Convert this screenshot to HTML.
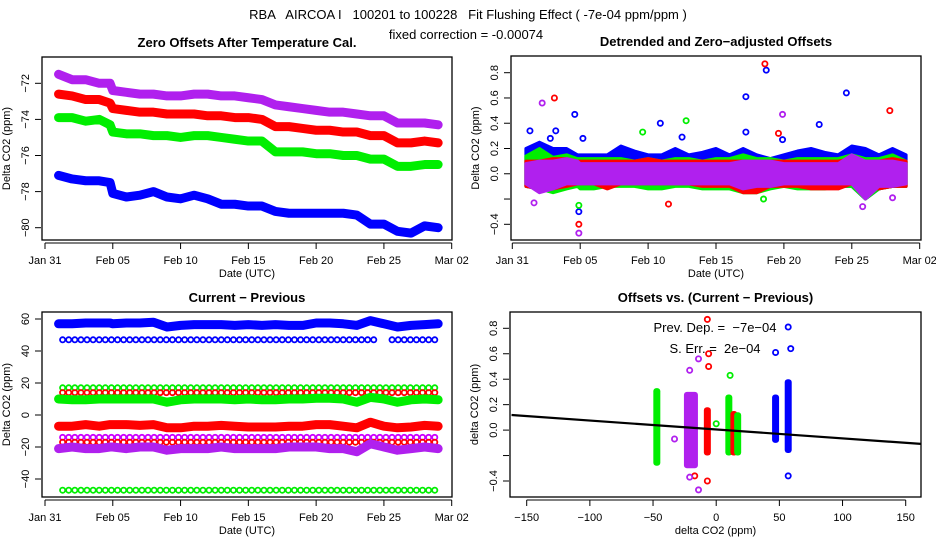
<!DOCTYPE html>
<html><head><meta charset="utf-8"><style>
body{margin:0;background:#fff}
svg{display:block;font-family:"Liberation Sans",sans-serif}
svg text{white-space:pre}
</style></head><body>
<svg id="chart" width="936" height="540" viewBox="0 0 936 540">
<text x="468" y="19" text-anchor="middle" font-size="13" xml:space="preserve">RBA   AIRCOA I   100201 to 100228   Fit Flushing Effect ( -7e-04 ppm/ppm )</text>
<text x="466" y="39" text-anchor="middle" font-size="13">fixed correction = -0.00074</text>
</svg>
<script>
// ---------- data ----------
const days = [1,2,3,4,4.8,5,6,7,8,9,10,11,12,13,14,15,16,17,18,19,20,21,22,23,24,25,26,27,28,29];
const zeroPurple = [-71.5,-71.8,-71.8,-72.0,-72.0,-72.4,-72.5,-72.6,-72.6,-72.7,-72.7,-72.6,-72.6,-72.7,-72.7,-72.8,-72.9,-73.2,-73.3,-73.4,-73.5,-73.6,-73.6,-73.7,-73.8,-73.8,-74.2,-74.2,-74.2,-74.3];
const zeroRed = [-72.6,-72.7,-72.9,-72.9,-73.1,-73.4,-73.5,-73.6,-73.6,-73.7,-73.7,-73.7,-73.8,-73.8,-73.9,-73.9,-74.0,-74.4,-74.4,-74.5,-74.6,-74.6,-74.7,-74.7,-74.9,-74.9,-75.3,-75.3,-75.2,-75.3];
const zeroGreen = [-73.9,-73.9,-74.1,-74.0,-74.3,-74.7,-74.8,-74.8,-74.9,-74.9,-75.0,-74.9,-74.9,-75.0,-75.1,-75.2,-75.2,-75.8,-75.8,-75.8,-75.9,-75.9,-76.0,-76.0,-76.2,-76.2,-76.6,-76.6,-76.5,-76.5];
const zeroBlue = [-77.1,-77.3,-77.4,-77.4,-77.5,-78.1,-78.3,-78.2,-78.0,-78.3,-78.4,-78.2,-78.4,-78.7,-78.7,-78.8,-78.8,-79.1,-79.2,-79.2,-79.2,-79.2,-79.2,-79.3,-79.8,-79.8,-80.2,-80.3,-79.9,-80.0];

const diffBlue = [57,57,57.5,57.5,57.5,57,57.5,57.5,58,55,56,56.5,56.5,56.5,56,56.5,56,56.5,56,56,57.5,57.5,57,56,59,57,55,56,56.5,57];
const diffGreen = [10,9.5,9.5,10,10,10,10,10,10,8,9.5,10,10,10,9.5,10,9.5,9.5,10,10,10.5,10.5,10,8,11,10,8,9.5,10,9.5];
const diffRed = [-7,-7,-6,-7,-6,-6,-6,-6.5,-6,-8,-8,-7,-7,-6.5,-7,-7.5,-7.5,-7.5,-7,-7,-6,-6,-7,-8,-4.5,-7,-8,-7.5,-6.5,-7];
const diffPurple = [-21,-20,-21,-21,-20,-20,-21,-20,-20,-22,-21,-21,-21,-20,-21,-21,-21,-21,-20,-20,-20,-21,-21,-23,-18,-20,-22,-21,-20,-21];
const openLevels = [47,17,14,-14,-17,-47];
const openColors = ['#0000ff','#00ee00','#ff0000','#cc00ff','#ff0000','#00ee00'];

const detHi = {blue:[0.2,0.25,0.2,0.2,0.15,0.15,0.15,0.15,0.22,0.18,0.15,0.15,0.2,0.15,0.17,0.2,0.15,0.2,0.15,0.12,0.15,0.18,0.2,0.17,0.15,0.22,0.2,0.15,0.2,0.15],
               green:[0.14,0.2,0.13,0.15,0.12,0.12,0.12,0.12,0.12,0.1,0.12,0.1,0.12,0.12,0.1,0.12,0.12,0.15,0.12,0.12,0.1,0.12,0.12,0.12,0.12,0.15,0.12,0.12,0.15,0.1],
               red:[0.1,0.1,0.12,0.12,0.1,0.1,0.1,0.1,0.1,0.1,0.12,0.1,0.1,0.1,0.1,0.1,0.1,0.1,0.1,0.1,0.1,0.1,0.1,0.1,0.1,0.12,0.1,0.1,0.12,0.1],
               purple:[0.08,0.1,0.1,0.12,0.1,0.08,0.08,0.08,0.08,0.08,0.08,0.08,0.08,0.08,0.08,0.08,0.08,0.1,0.1,0.1,0.08,0.08,0.08,0.08,0.08,0.15,0.1,0.1,0.1,0.08]};
const detLo = {blue:[-0.1,-0.12,-0.12,-0.1,-0.1,-0.1,-0.08,-0.08,-0.08,-0.08,-0.08,-0.08,-0.08,-0.08,-0.08,-0.08,-0.08,-0.1,-0.1,-0.1,-0.1,-0.1,-0.1,-0.1,-0.1,-0.1,-0.2,-0.12,-0.1,-0.1],
               green:[-0.1,-0.12,-0.15,-0.12,-0.1,-0.12,-0.12,-0.1,-0.1,-0.1,-0.12,-0.12,-0.1,-0.1,-0.12,-0.12,-0.12,-0.15,-0.15,-0.12,-0.1,-0.12,-0.12,-0.12,-0.1,-0.1,-0.2,-0.12,-0.1,-0.1],
               red:[-0.1,-0.12,-0.12,-0.1,-0.08,-0.08,-0.08,-0.12,-0.08,-0.08,-0.08,-0.08,-0.08,-0.08,-0.1,-0.1,-0.1,-0.15,-0.15,-0.1,-0.1,-0.1,-0.12,-0.12,-0.12,-0.08,-0.12,-0.12,-0.1,-0.1],
               purple:[-0.08,-0.15,-0.12,-0.08,-0.08,-0.08,-0.08,-0.08,-0.08,-0.08,-0.08,-0.08,-0.08,-0.08,-0.08,-0.08,-0.08,-0.12,-0.1,-0.1,-0.08,-0.08,-0.08,-0.08,-0.08,-0.08,-0.2,-0.1,-0.1,-0.08]};
const detOutDay = [1.3,2.8,3.2,4.6,4.9,5.2,10.9,12.5,17.2,17.2,18.7,22.6,24.6,19.9,3.1,18.6,27.8,4.9,11.5,19.6,12.8,9.6,4.9,18.5,2.2,4.9,19.9,1.6,28,25.8];
const detOutVal = [0.34,0.28,0.34,0.47,-0.3,0.28,0.4,0.29,0.61,0.33,0.82,0.39,0.64,0.27,0.6,0.87,0.5,-0.4,-0.24,0.32,0.42,0.33,-0.25,-0.2,0.56,-0.47,0.47,-0.23,-0.19,-0.26];
const detOutCol = ['b','b','b','b','b','b','b','b','b','b','b','b','b','b','r','r','r','r','r','r','g','g','g','g','p','p','p','p','p','p'];

const scX = [-47,-20,-7,10,14,17,47,57];
const scLo = [-0.28,-0.3,-0.2,-0.2,-0.2,-0.2,-0.1,-0.18];
const scHi = [0.33,0.3,0.18,0.28,0.15,0.14,0.28,0.4];
const scCol = ['g','p','r','g','r','g','b','b'];
const scOutX = [-7,-6,-6,-7,-17,57,47,59,57,-21,-14,-14,-33,-21,11,0];
const scOutY = [0.87,0.6,0.5,-0.4,-0.36,0.81,0.61,0.64,-0.36,0.47,0.56,-0.47,-0.07,-0.37,0.43,0.05];
const scOutCol = ['r','r','r','r','r','b','b','b','b','p','p','p','p','p','g','g'];
const fitSlope = -0.0007, fitIntercept = 0.005;

const dateTicks = [0,5,10,15,20,25,30];
const dateLabels = ['Jan 31','Feb 05','Feb 10','Feb 15','Feb 20','Feb 25','Mar 02'];
const zeroTicks = [-80,-78,-76,-74,-72];
const diffTicks = [-40,-20,0,20,40,60];
const detTicks = [-0.4,-0.2,0,0.2,0.4,0.6,0.8];
const detLabels = ['-0.4','','0.0','0.2','0.4','0.6','0.8'];
const scXTicks = [-150,-100,-50,0,50,100,150];

// ---------- drawing ----------
const COL = {b:'#0000ff',g:'#00ee00',r:'#ff0000',p:'#b020ee'};
const svg = document.getElementById('chart');
const NS = 'http://www.w3.org/2000/svg';
function mk(tag, attrs, parent){const e=document.createElementNS(NS,tag);for(const k in attrs)e.setAttribute(k,attrs[k]);(parent||svg).appendChild(e);return e;}
function lin(d0,d1,r0,r1){return v=>r0+(v-d0)*(r1-r0)/(d1-d0);}

function frame(g,box,title,xlab,ylab,xt,xl,xs,yt,yl,ys){
  mk('rect',{x:box.x,y:box.y,width:box.w,height:box.h,fill:'none',stroke:'#000','stroke-width':1.3},g);
  const t=mk('text',{x:box.x+box.w/2,y:box.y-10,'text-anchor':'middle','font-size':13,'font-weight':'bold'},g);t.textContent=title;
  
  
  const ay=box.y+box.h+3;
  mk('line',{x1:xs(xt[0]),x2:xs(xt[xt.length-1]),y1:ay,y2:ay,stroke:'#000'},g);
  xt.forEach((v,i)=>{mk('line',{x1:xs(v),x2:xs(v),y1:ay,y2:ay+6,stroke:'#000'},g);
    const l=mk('text',{x:xs(v),y:ay+21,'text-anchor':'middle','font-size':11},g);l.textContent=xl[i];
    
    });
  const xa=mk('text',{x:box.x+box.w/2,y:ay+34,'text-anchor':'middle','font-size':11},g);xa.textContent=xlab;
  
  
  const ax=box.x-1;
  yt.forEach((v,i)=>{mk('line',{x1:ax-6,x2:ax,y1:ys(v),y2:ys(v),stroke:'#000'},g);
    if(yl[i]!==''){const l=mk('text',{x:0,y:0,'text-anchor':'middle','font-size':11,transform:`translate(${ax-12},${ys(v)}) rotate(-90)`},g);l.textContent=yl[i];
    
    }});
  const ya=mk('text',{x:0,y:0,'text-anchor':'middle','font-size':11,transform:`translate(${box.x-32},${box.y+box.h/2}) rotate(-90)`},g);ya.textContent=ylab;
  
  
}
function circ(g,x,y,c,name){const e=mk('circle',{cx:x,cy:y,r:2.6,fill:'none',stroke:c,'stroke-width':1.8},g);
  
  }
function band(g,xs,ys,vals,c,name){
  const pts=days.map((d,i)=>xs(d)+','+ys(vals[i])).join(' ');
  const p=mk('polyline',{points:pts,fill:'none',stroke:c,'stroke-width':9,'stroke-linejoin':'round','stroke-linecap':'round'},g);
  
  
  days.forEach((d,i)=>circ(g,xs(d),ys(vals[i]),c,name+'-point'));
}

// Panel 1
{const g=mk('g',{});
 const box={x:42,y:57,w:410,h:183};const xs=lin(0,30,45,451.7),ys=lin(-72,-80,83.3,227.7);
 frame(g,box,'Zero Offsets After Temperature Cal.','Date (UTC)','Delta CO2 (ppm)',dateTicks,dateLabels,xs,zeroTicks,zeroTicks.map(String).map(s=>s.replace('-','\u2212')),ys);
 band(g,xs,ys,zeroPurple,COL.p,'zero-purple-series');band(g,xs,ys,zeroRed,COL.r,'zero-red-series');
 band(g,xs,ys,zeroGreen,COL.g,'zero-green-series');band(g,xs,ys,zeroBlue,COL.b,'zero-blue-series');}

// Panel 2
{const g=mk('g',{});
 const box={x:511,y:56,w:410,h:184};const xs=lin(0,30,512.3,919.7),ys=lin(0.8,-0.4,72.7,224.3);
 frame(g,box,'Detrended and Zero\u2212adjusted Offsets','Date (UTC)','Delta CO2 (ppm)',dateTicks,dateLabels,xs,detTicks,detLabels.map(s=>s.replace('-','\u2212')),ys);
 ['blue','green','red','purple'].forEach(k=>{const c=COL[k[0]];
   const pts=days.map((d,i)=>xs(d)+','+ys(detHi[k][i])).concat(days.slice().reverse().map((d,j)=>{const i=days.length-1-j;return xs(d)+','+ys(detLo[k][i]);})).join(' ');
   const p=mk('polygon',{points:pts,fill:c,stroke:c,'stroke-width':3,'stroke-linejoin':'round'},g);
   
   });
 detOutDay.forEach((d,i)=>circ(g,xs(d),ys(detOutVal[i]),COL[detOutCol[i]],'detrended-outlier'));}

// Panel 3
{const g=mk('g',{});
 const box={x:42,y:312,w:410,h:185};const xs=lin(0,30,45,451.7),ys=lin(60,-40,319,479);
 frame(g,box,'Current \u2212 Previous','Date (UTC)','Delta CO2 (ppm)',dateTicks,dateLabels,xs,diffTicks,diffTicks.map(String).map(s=>s.replace('-','\u2212')),ys);
 openLevels.forEach((lv,k)=>{for(let d=1.3;d<=29;d+=0.45){if(lv===47&&d>24.6&&d<25.4)continue;circ(g,xs(d),ys(lv),openColors[k],'open-circle-level');}});
 band(g,xs,ys,diffBlue,COL.b,'diff-blue-series');band(g,xs,ys,diffGreen,COL.g,'diff-green-series');
 band(g,xs,ys,diffRed,COL.r,'diff-red-series');band(g,xs,ys,diffPurple,COL.p,'diff-purple-series');}

// Panel 4
{const g=mk('g',{});
 const box={x:510,y:312,w:411,h:185};const xs=lin(-150,150,526.7,905.7),ys=lin(0.8,-0.4,328.3,481);
 frame(g,box,'Offsets vs. (Current \u2212 Previous)','delta CO2 (ppm)','delta CO2 (ppm)',scXTicks,scXTicks.map(String).map(s=>s.replace('-','\u2212')),xs,detTicks,detLabels.map(s=>s.replace('-','\u2212')),ys);
 scX.forEach((x,i)=>{const c=COL[scCol[i]];const w=i===1?14:7;
   const r=mk('rect',{x:xs(x)-w/2,y:ys(scHi[i]),width:w,height:ys(scLo[i])-ys(scHi[i]),fill:c,rx:3},g);
   
   });
 scOutX.forEach((x,i)=>circ(g,xs(x),ys(scOutY[i]),COL[scOutCol[i]],'scatter-outlier'));
 const l=mk('line',{x1:xs(-162),y1:ys(fitIntercept+fitSlope*-162),x2:xs(162),y2:ys(fitIntercept+fitSlope*162),stroke:'#000','stroke-width':2.2},g);
 
 
 const t1=mk('text',{x:715,y:332,'text-anchor':'middle','font-size':13},g);t1.textContent='Prev. Dep. =  \u22127e\u221204';
 
 
 const t2=mk('text',{x:715,y:353,'text-anchor':'middle','font-size':13},g);t2.textContent='S. Err. =  2e\u221204';
 
 }
</script>
</body></html>
